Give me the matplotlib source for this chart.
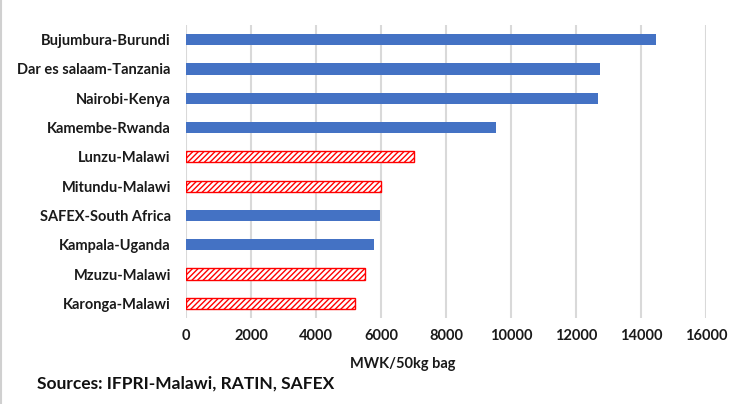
import matplotlib
matplotlib.use('Agg')
import matplotlib.pyplot as plt

plt.rcParams['font.family'] = ['Lato', 'DejaVu Sans']
plt.rcParams['hatch.color'] = 'red'
plt.rcParams['hatch.linewidth'] = 1.0

# top to bottom as in the chart
markets = ['Bujumbura-Burundi', 'Dar es salaam-Tanzania', 'Nairobi-Kenya', 'Kamembe-Rwanda',
           'Lunzu-Malawi', 'Mitundu-Malawi', 'SAFEX-South Africa', 'Kampala-Uganda',
           'Mzuzu-Malawi', 'Karonga-Malawi']
prices = [14450, 12750, 12670, 9550, 7000, 6000, 5970, 5790, 5520, 5200]
is_malawi = [False, False, False, False, True, True, False, False, True, True]

fig = plt.figure(figsize=(7.33, 4.04), dpi=100)
ax = fig.add_axes([0.2538, 0.213, 0.7094, 0.725])

ypos = list(range(len(markets)))[::-1]
for y, val, mw in zip(ypos, prices, is_malawi):
    if mw:
        ax.barh(y, val, height=0.38, color='white', edgecolor='red', hatch='//////', linewidth=1.0, zorder=3)
    else:
        ax.barh(y, val, height=0.38, color='#4472C4', zorder=3)

ax.set_yticks(ypos)
ax.set_yticklabels(markets, fontsize=10.5, fontweight='bold', color='#1a1a1a')
ax.set_xlim(0, 16000)
ax.set_ylim(-0.5, 9.5)
ax.set_xticks(range(0, 16001, 2000))
ax.tick_params(axis='x', labelsize=10.5, colors='#1a1a1a', length=0, pad=8)
ax.tick_params(axis='y', length=0, pad=11)
for lab in ax.get_xticklabels():
    lab.set_fontweight('bold')
ax.grid(axis='x', color='#d9d9d9', linewidth=1.5, zorder=0)
for s in ax.spines.values():
    s.set_visible(False)
ax.set_xlabel('MWK/50kg bag', fontsize=10.5, fontweight='bold', color='#1a1a1a')
ax.xaxis.set_label_coords((403 - 186) / 520, -0.135)

fig.text(37 / 733, 1 - 384 / 404, 'Sources: IFPRI-Malawi, RATIN, SAFEX', fontsize=12.5,
         fontweight='bold', va='center', ha='left', color='#111111')
fig.add_artist(plt.Line2D([0.001, 0.001], [0, 1], color='#d0d0d0', linewidth=1.5))

fig.savefig('out.png', dpi=100)
